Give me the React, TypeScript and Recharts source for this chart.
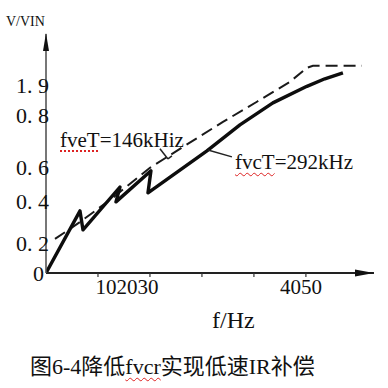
import { LineChart, Line, XAxis, YAxis, ReferenceLine, ReferenceDot } from "recharts";

// f (Hz) / V/VIN readings taken off the scanned figure
const solidX = [0, 6.54, 7.12, 14.23, 13.46, 20.19, 19.62, 30.96, 37.31, 43.65, 50.19, 53.65, 57.12];
const solidY = [0, 0.33, 0.229, 0.457, 0.378, 0.543, 0.426, 0.649, 0.787, 0.904, 0.992, 1.032, 1.064];

const dashX = [1.73, 6.54, 12.31, 20.0, 26.35, 34.04, 40.58, 46.92, 50.19, 51.35, 60.77];
const dashY = [0.181, 0.271, 0.388, 0.559, 0.67, 0.803, 0.91, 1.016, 1.09, 1.101, 1.101];

const xTicks = [10, 20, 30, 40, 50];
const xTickLabels = ["", "102030", "", "", "4050"];

const yTicks = [0, 0.16, 0.383, 0.564, 0.84, 1.0];
const yTickLabels = ["0", "0. 2", "0. 4", "0. 6", "0. 8", "1. 9"];

const leaderVe = [
  { x: 21.92, y: 0.66 },
  { x: 23.46, y: 0.606 },
  { x: 24.23, y: 0.622 },
];
const leaderVc = [
  { x: 31.15, y: 0.654 },
  { x: 35.77, y: 0.617 },
];

const solid = solidX.map((x, i) => ({ x, y: solidY[i] }));
const dashed = dashX.map((x, i) => ({ x, y: dashY[i] }));

const serif = "'Liberation Serif', 'Times New Roman', serif";

function XTick(props: any) {
  const { x, y, index } = props;
  const label = xTickLabels[index];
  if (!label) return null;
  const shift = index === 1 ? -23 : -5;
  return (
    <text x={x + shift} y={y} dy="0.71em" textAnchor="middle" fontFamily={serif} fontSize={21} fill="#111">
      {label}
    </text>
  );
}

function YTick(props: any) {
  const { y, index } = props;
  const label = yTickLabels[index];
  return (
    <text x={index === 0 ? 44 : 49} y={y} dy="0.355em" textAnchor="end" fontFamily={serif} fontSize={22} fill="#111">
      {label}
    </text>
  );
}

const upArrow = (p: any) => (
  <polygon points={`${p.cx},${p.cy - 1} ${p.cx - 3},${p.cy + 17} ${p.cx + 3},${p.cy + 17}`} fill="#111" />
);
const rightArrow = (p: any) => (
  <polygon points={`${p.cx},${p.cy} ${p.cx - 19},${p.cy - 3.5} ${p.cx - 19},${p.cy + 3.5}`} fill="#111" />
);

const txt = (left: number, top: number, size: number, extra: any = {}) => ({
  position: "absolute" as const,
  left,
  top,
  fontSize: size,
  lineHeight: 1,
  fontFamily: serif,
  color: "#111",
  whiteSpace: "nowrap" as const,
  ...extra,
});

export default function App() {
  return (
    <div style={{ position: "fixed", left: 0, top: 0, width: 388, height: 388, background: "#fff" }}>
      <LineChart width={388} height={388} margin={{ top: 34, right: 14, bottom: 0, left: 0 }}>
        <XAxis
          type="number"
          dataKey="x"
          domain={[0, 63.1]}
          ticks={xTicks}
          tick={XTick}
          height={115}
          tickSize={4}
          tickMargin={2}
          axisLine={{ stroke: "#222", strokeWidth: 2 }}
          tickLine={{ stroke: "#333", strokeWidth: 1.2 }}
          allowDataOverflow
        />
        <YAxis
          type="number"
          dataKey="y"
          domain={[0, 1.27]}
          ticks={yTicks}
          tick={YTick}
          width={46}
          tickLine={false}
          axisLine={{ stroke: "#555", strokeWidth: 1.6 }}
          allowDataOverflow
        />
        <Line
          data={dashed}
          dataKey="y"
          type="linear"
          stroke="#1a1a1a"
          strokeWidth={2}
          strokeDasharray="12 6"
          dot={false}
          isAnimationActive={false}
        />
        <Line
          data={solid}
          dataKey="y"
          type="linear"
          stroke="#0d0d0d"
          strokeWidth={3.4}
          strokeLinejoin="round"
          dot={false}
          isAnimationActive={false}
        />
        <ReferenceLine segment={[leaderVe[0], leaderVe[1]]} stroke="#222" strokeWidth={1.5} />
        <ReferenceLine segment={[leaderVe[1], leaderVe[2]]} stroke="#222" strokeWidth={1.5} />
        <ReferenceLine segment={[leaderVc[0], leaderVc[1]]} stroke="#222" strokeWidth={1.5} />
        <ReferenceDot x={0} y={1.27} r={0} shape={upArrow} />
        <ReferenceDot x={63.1} y={0} r={0} shape={rightArrow} />
      </LineChart>

      <div style={txt(6, 15, 14)}>V/VIN</div>
      <div style={txt(60, 130, 21)}>
        <span style={{ textDecoration: "underline dotted #d22", textUnderlineOffset: 3 }}>fveT</span>=146kHiz
      </div>
      <div style={txt(235, 152, 21)}>
        <span style={{ textDecoration: "underline wavy #d22", textDecorationThickness: 1, textUnderlineOffset: 3 }}>fvcT</span>=292kHz
      </div>
      <div style={txt(212, 308, 24)}>f/Hz</div>
      <div style={txt(30, 356, 22, { fontFamily: "'Liberation Serif', 'Noto Sans CJK SC', serif" })}>
        图6-4降低
        <span style={{ textDecoration: "underline wavy #d22", textDecorationThickness: 1, textUnderlineOffset: 3 }}>fvcr</span>
        实现低速IR补偿
      </div>
    </div>
  );
}
